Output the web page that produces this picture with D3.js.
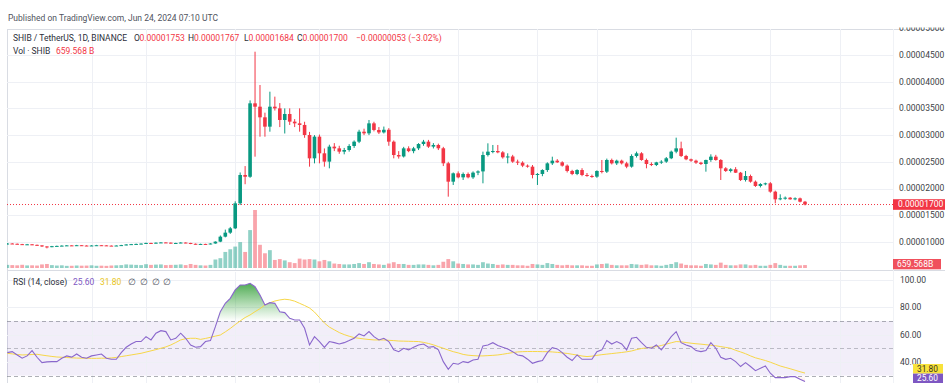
<!DOCTYPE html>
<html><head><meta charset="utf-8">
<script src="https://cdn.jsdelivr.net/npm/d3@7"></script>
<style>
html,body{margin:0;padding:0;background:#fff;}
svg{display:block;font-family:Roboto,"Liberation Sans",sans-serif;}
</style></head><body>
<svg id="chart" width="945" height="383"></svg>
<script>
// prices in units of 1e-8 USDT, daily candles from 2024-01-15 to 2024-06-24
const firstDay = "2024-01-15";
const lastDay = "2024-06-24";
const opens = [960,970,965,958,950,955,945,935,915,908,920,925,930,935,930,938,932,928,933,938,935,930,928,932,940,952,958,962,968,980,975,985,990,986,975,980,988,980,965,960,962,958,970,1005,1098,1173,1254,1722,2253,2220,3595,3532,3333,3158,3532,3501,3283,3395,3252,3220,3190,3002,2565,2971,2659,2503,2784,2752,2690,2721,2796,2877,3064,3033,3220,3096,3050,3100,2877,2627,2600,2752,2700,2752,2833,2877,2784,2815,2753,2472,2128,2284,2209,2272,2209,2297,2320,2627,2690,2702,2677,2584,2600,2503,2484,2428,2409,2253,2272,2346,2471,2521,2490,2428,2328,2272,2346,2253,2234,2222,2328,2315,2534,2471,2521,2471,2409,2609,2659,2534,2459,2440,2490,2503,2566,2690,2752,2609,2547,2521,2484,2459,2534,2596,2534,2378,2328,2360,2296,2159,2234,2128,2047,2084,2097,1941,1797,1816,1828,1797,1816,1753];
const highs = [978,976,970,963,962,958,950,938,920,925,930,936,940,938,944,941,936,938,944,942,938,934,936,945,956,962,968,972,986,984,990,996,994,989,984,994,991,983,970,966,965,975,1010,1120,1230,1280,1760,2300,2420,3650,4562,3938,3420,3813,3720,3600,3500,3501,3300,3501,3250,3060,3000,3010,2750,2820,2850,2800,2760,2830,2900,3100,3120,3283,3250,3150,3160,3130,2900,2700,2780,2790,2780,2850,2910,2910,2850,2840,2780,2500,2300,2320,2300,2300,2320,2340,2690,2846,2815,2815,2700,2659,2630,2540,2510,2450,2440,2290,2360,2490,2596,2550,2510,2450,2350,2360,2380,2290,2260,2340,2534,2560,2560,2540,2540,2500,2640,2690,2680,2560,2490,2500,2530,2590,2710,2952,2877,2630,2560,2540,2500,2540,2640,2630,2550,2400,2380,2400,2310,2328,2260,2150,2100,2110,2120,1960,1891,1850,1840,1834,1830,1767];
const lows = [952,960,952,944,946,940,930,905,879,900,914,920,925,924,926,928,922,924,930,930,925,922,924,928,936,947,953,956,964,970,971,980,981,970,970,976,975,958,952,954,950,955,966,995,1085,1150,1240,1690,2080,2200,2596,2970,2970,3064,3460,3150,3030,3190,3150,3064,2950,2409,2471,2471,2409,2378,2700,2650,2640,2690,2760,2850,3000,3000,3070,3020,3030,2800,2565,2560,2580,2680,2660,2720,2800,2760,2750,2720,2420,1847,2066,2190,2160,2190,2180,2250,2097,2600,2660,2660,2560,2471,2480,2440,2400,2390,2190,2066,2230,2310,2440,2480,2410,2300,2250,2250,2230,2220,2200,2200,2284,2290,2450,2440,2450,2380,2390,2580,2520,2378,2420,2420,2460,2480,2550,2660,2590,2530,2500,2460,2440,2315,2500,2520,2159,2310,2300,2290,2140,2130,2110,2030,2020,2060,1920,1722,1780,1790,1790,1780,1740,1684];
const closes = [970,965,958,950,955,945,935,915,908,920,925,930,935,930,938,932,928,933,938,935,930,928,932,940,952,958,962,968,980,975,985,990,986,975,980,988,980,965,960,962,958,970,1005,1098,1173,1254,1722,2253,2220,3595,3532,3333,3158,3532,3501,3283,3395,3252,3220,3190,3002,2565,2971,2659,2503,2784,2752,2690,2721,2796,2877,3064,3033,3220,3096,3050,3100,2877,2627,2600,2752,2700,2752,2833,2877,2784,2815,2753,2472,2128,2284,2209,2272,2209,2297,2320,2627,2690,2702,2677,2584,2600,2503,2484,2428,2409,2253,2272,2346,2471,2521,2490,2428,2328,2272,2346,2253,2234,2222,2328,2315,2534,2471,2521,2471,2409,2609,2659,2534,2459,2440,2490,2503,2566,2690,2752,2609,2547,2521,2484,2459,2534,2596,2534,2378,2328,2360,2296,2159,2234,2128,2047,2084,2097,1941,1797,1816,1828,1797,1816,1753,1700];
// volume in billions of SHIB
const volumes = [700,650,600,720,580,600,550,800,900,650,550,600,480,500,560,520,540,600,500,520,480,560,600,650,800,750,700,650,850,700,760,800,650,700,720,800,650,900,700,600,560,700,1900,2200,3600,4200,4800,5800,3600,8500,13000,5200,3300,4000,1800,2000,1700,1300,1100,2100,1900,2000,1900,1500,1800,1500,1000,900,800,800,900,1100,900,1300,900,800,700,1000,1300,900,900,700,700,800,800,700,600,700,1400,2000,1500,1000,900,800,800,700,1300,1000,900,700,800,700,700,600,600,500,900,800,700,1100,900,700,600,700,600,600,600,500,500,800,900,1000,700,600,600,600,900,800,700,800,600,600,500,700,900,1300,1000,700,600,600,500,900,800,700,1200,700,600,600,800,800,600,700,500,500,700,1100,700,500,500,500,600,660];
const rsi = [46.8,47.5,45.1,42.7,44.4,48.3,43.4,39.5,40.0,40.2,40.2,42.7,44.4,43.5,45.8,43.4,42.7,44.4,45.1,45.8,42.7,41.9,41.9,46.8,50.7,53.1,54.9,54.9,58.5,56.1,61.0,62.9,62.2,56.1,57.3,61.0,57.3,52.4,50.7,51.2,54.9,55.6,65.8,76.8,82.9,86.6,92.7,96.3,96.3,97.6,95.1,89.0,81.7,83.4,82.9,76.8,76.1,71.9,70.7,70.7,64.6,52.4,58.5,54.9,50.7,54.9,54.1,53.1,54.1,55.6,57.3,60.5,59.0,62.2,58.5,56.1,57.3,54.9,48.8,47.5,50.0,48.8,50.7,52.4,53.1,50.7,51.2,48.8,40.2,34.6,39.0,38.3,40.2,39.5,41.4,41.9,51.7,52.4,54.1,52.0,50.7,49.5,47.5,45.1,44.4,42.0,39.0,40.2,41.0,46.8,50.5,49.5,46.8,43.4,41.0,45.1,41.9,41.9,41.9,47.5,48.8,55.6,53.1,54.9,53.1,48.8,57.3,58.0,54.1,50.7,50.0,52.4,48.8,53.6,58.5,62.2,54.1,52.4,51.2,48.3,47.5,48.3,54.1,50.0,43.4,41.9,42.7,40.2,36.6,39.5,36.6,33.6,35.3,37.1,31.7,28.5,28.5,28.5,29.2,29.2,27.3,25.6];
const rsiMa = [46.3,45.9,45.4,45.1,45.2,45.4,45.6,45.0,44.5,44.0,43.6,43.4,43.2,43.0,42.8,42.7,42.7,42.6,42.6,42.7,42.7,42.9,43.3,43.9,44.5,45.1,45.7,46.3,47.2,48.1,49.0,50.0,51.0,52.4,54.2,56.1,57.0,57.3,57.3,56.5,57.2,58.0,58.9,59.7,62.0,64.5,67.3,70.0,72.5,74.4,76.8,79.0,81.7,83.3,84.6,85.4,85.9,85.5,84.5,82.9,81.3,79.5,76.5,72.5,68.5,65.5,63.5,61.5,60.0,58.8,57.8,57.3,56.8,56.4,56.1,56.1,56.1,55.8,55.6,55.3,55.2,55.1,55.0,54.9,54.3,53.5,52.5,51.2,50.0,48.7,47.5,46.6,45.5,44.9,44.6,44.4,44.4,44.6,44.8,45.1,45.6,46.2,46.8,47.3,47.5,47.6,47.6,47.6,47.5,47.5,47.3,47.0,46.6,46.2,45.6,45.0,44.3,43.9,44.2,44.8,45.3,45.7,46.1,46.5,46.9,47.4,48.0,49.0,49.8,50.3,50.8,51.2,52.0,53.0,54.0,54.9,54.7,54.2,53.7,53.3,53.0,52.6,52.2,51.8,51.2,50.6,50.0,48.5,47.3,46.0,44.4,43.0,42.0,41.0,39.8,38.4,37.0,36.0,35.0,33.9,32.8,31.8];
const priceTicks = [1000,1500,2000,2500,3000,3500,4000,4500,5000];
const rsiTicks = [100,80,60,40];
const rsiLevels = [70,50,30];
const gridDates = ["2024-02-01","2024-02-12","2024-03-01","2024-03-18","2024-04-01","2024-04-15","2024-05-01","2024-05-13","2024-06-01","2024-06-17","2024-07-01"];
const lastPrice = 1700, lastVolumeLabel = "659.568B", rsiLast = 25.60, rsiMaLast = 31.80;

const UP = "#089981", DOWN = "#F23645";
const svg = d3.select("#chart");
const parse = d3.utcParse("%Y-%m-%d");
const dates = d3.utcDay.range(parse(firstDay), d3.utcDay.offset(parse(lastDay), 1));
const data = dates.map((d, i) => ({d, o: opens[i], h: highs[i], l: lows[i], c: closes[i], v: volumes[i], r: rsi[i], m: rsiMa[i]}));

const L = 7, R = 893, PT = 29, PB = 270, RT = 272, RB = 395;
const x = d3.scaleUtc().domain([dates[0], dates[dates.length - 1]]).range([7.3, 805]);
const y = d3.scaleLinear().domain([1000, 5000]).range([241.9, 28.3]);
const vy = d3.scaleLinear().domain([0, 13000]).range([268, 210]);
const ry = d3.scaleLinear().domain([40, 100]).range([361.9, 280]);
const fmtP = v => (v * 1e-8).toFixed(8);

const defs = svg.append("defs");
defs.append("clipPath").attr("id", "cpMain").append("rect").attr("x", L).attr("y", PT).attr("width", R - L).attr("height", PB - PT);
defs.append("clipPath").attr("id", "cpRsi").append("rect").attr("x", L).attr("y", RT).attr("width", R - L).attr("height", RB - RT);
defs.append("clipPath").attr("id", "cpAxis").append("rect").attr("x", R).attr("y", 27.5).attr("width", 60).attr("height", PB - 27.5);
const ob = defs.append("linearGradient").attr("id", "obGrad").attr("gradientUnits", "userSpaceOnUse")
  .attr("x1", 0).attr("x2", 0).attr("y1", ry(100)).attr("y2", ry(70));
ob.append("stop").attr("offset", 0).attr("stop-color", "#3fa344").attr("stop-opacity", 1);
ob.append("stop").attr("offset", 1).attr("stop-color", "#4caf50").attr("stop-opacity", 0);
const os = defs.append("linearGradient").attr("id", "osGrad").attr("gradientUnits", "userSpaceOnUse")
  .attr("x1", 0).attr("x2", 0).attr("y1", ry(30)).attr("y2", ry(0));
os.append("stop").attr("offset", 0).attr("stop-color", "#ff5252").attr("stop-opacity", 0);
os.append("stop").attr("offset", 1).attr("stop-color", "#ff5252").attr("stop-opacity", 1);

// frame
svg.append("rect").attr("x", L + 0.5).attr("y", PT + 0.5).attr("width", 945).attr("height", 400)
  .attr("fill", "none").attr("stroke", "#d9dce3");
// grids main
const gMain = svg.append("g").attr("clip-path", "url(#cpMain)");
gMain.selectAll(".hg").data(priceTicks).join("line")
  .attr("x1", L).attr("x2", R).attr("y1", d => Math.round(y(d)) + 0.5).attr("y2", d => Math.round(y(d)) + 0.5)
  .attr("stroke", "#eef0f5");
gMain.selectAll(".vg").data(gridDates).join("line")
  .attr("x1", d => Math.round(x(parse(d))) + 0.5).attr("x2", d => Math.round(x(parse(d))) + 0.5)
  .attr("y1", PT).attr("y2", PB).attr("stroke", "#eef0f5");
// volume
gMain.selectAll(".vol").data(data).join("rect")
  .attr("x", d => x(d.d) - 1.9).attr("width", 3.8)
  .attr("y", d => vy(d.v)).attr("height", d => vy(0) - vy(d.v))
  .attr("fill", d => d.c >= d.o ? "rgba(8,153,129,0.45)" : "rgba(242,54,69,0.45)");
// last price line
gMain.append("line").attr("x1", L).attr("x2", R).attr("y1", y(lastPrice)).attr("y2", y(lastPrice))
  .attr("stroke", DOWN).attr("stroke-dasharray", "1,2").attr("stroke-width", 1);
// candles
const cg = gMain.selectAll(".c").data(data).join("g");
cg.append("line").attr("x1", d => x(d.d)).attr("x2", d => x(d.d))
  .attr("y1", d => y(d.h)).attr("y2", d => y(d.l))
  .attr("stroke", d => d.c >= d.o ? UP : DOWN).attr("stroke-width", 1);
cg.append("rect").attr("x", d => x(d.d) - 1.8).attr("width", 3.6)
  .attr("y", d => y(Math.max(d.o, d.c))).attr("height", d => Math.max(1, Math.abs(y(d.o) - y(d.c))))
  .attr("fill", d => d.c >= d.o ? UP : DOWN);

// separators
svg.append("line").attr("x1", L).attr("x2", 945).attr("y1", 270.5).attr("y2", 270.5).attr("stroke", "#d9dce3");
svg.append("line").attr("x1", R + 0.5).attr("x2", R + 0.5).attr("y1", PT).attr("y2", 383).attr("stroke", "#f0f2f6");

// price axis labels
const axG = svg.append("g").attr("clip-path", "url(#cpAxis)");
axG.selectAll("text").data(priceTicks).join("text")
  .attr("x", 899).attr("y", d => y(d)).attr("dy", "0.35em")
  .attr("font-size", 8.5).attr("fill", "#3d3f46").text(fmtP);
svg.append("rect").attr("x", R).attr("y", y(lastPrice) - 5.3).attr("width", 52).attr("height", 10.6).attr("fill", DOWN);
svg.append("text").attr("x", 898).attr("y", y(lastPrice)).attr("dy", "0.35em").attr("font-size", 8.5)
  .attr("fill", "#fff").text(fmtP(lastPrice));
svg.append("rect").attr("x", R).attr("y", 259).attr("width", 48).attr("height", 10.3).attr("fill", "#f0505c");
svg.append("text").attr("x", 897).attr("y", 264.2).attr("dy", "0.35em").attr("font-size", 8.5)
  .attr("fill", "#fff").text(lastVolumeLabel);

// RSI pane
const gR = svg.append("g").attr("clip-path", "url(#cpRsi)");
gR.append("rect").attr("x", L).attr("width", R - L).attr("y", ry(70)).attr("height", ry(30) - ry(70))
  .attr("fill", "rgba(126,87,194,0.1)");
gR.selectAll(".rg").data(rsiTicks).join("line")
  .attr("x1", L).attr("x2", R).attr("y1", d => Math.round(ry(d)) + 0.5).attr("y2", d => Math.round(ry(d)) + 0.5)
  .attr("stroke", "#eef0f5");
gR.selectAll(".rvg").data(gridDates).join("line")
  .attr("x1", d => Math.round(x(parse(d))) + 0.5).attr("x2", d => Math.round(x(parse(d))) + 0.5)
  .attr("y1", RT).attr("y2", RB).attr("stroke", "#eef0f5");
gR.selectAll(".lvl").data(rsiLevels).join("line")
  .attr("x1", L).attr("x2", R).attr("y1", d => Math.round(ry(d)) + 0.5).attr("y2", d => Math.round(ry(d)) + 0.5)
  .attr("stroke", "#787B86").attr("stroke-opacity", d => d === 50 ? 0.45 : 0.6)
  .attr("stroke-dasharray", "4,3");
gR.append("path").datum(data).attr("fill", "url(#obGrad)")
  .attr("d", d3.area().x(d => x(d.d)).y0(ry(70)).y1(d => ry(Math.max(70, d.r))));
gR.append("path").datum(data).attr("fill", "url(#osGrad)")
  .attr("d", d3.area().x(d => x(d.d)).y0(ry(30)).y1(d => ry(Math.min(30, d.r))));
gR.append("path").datum(data).attr("fill", "none").attr("stroke", "#F7D748").attr("stroke-width", 1)
  .attr("d", d3.line().x(d => x(d.d)).y(d => ry(d.m)));
gR.append("path").datum(data).attr("fill", "none").attr("stroke", "#8a67cc").attr("stroke-width", 1.1)
  .attr("d", d3.line().x(d => x(d.d)).y(d => ry(d.r)));

svg.selectAll(".rt").data(rsiTicks).join("text")
  .attr("x", 900).attr("y", d => ry(d)).attr("dy", "0.35em").attr("font-size", 8.5)
  .attr("fill", "#3d3f46").text(d => d.toFixed(2));
svg.append("rect").attr("x", 913).attr("y", 364).attr("width", 30).attr("height", 9.6).attr("fill", "#F8E23B");
svg.append("text").attr("x", 917).attr("y", 368.8).attr("dy", "0.35em").attr("font-size", 8.3)
  .attr("fill", "#3a3320").text(rsiMaLast.toFixed(2));
svg.append("rect").attr("x", 913).attr("y", 373.6).attr("width", 30).attr("height", 9.4).attr("fill", "#7E57C2");
svg.append("text").attr("x", 917).attr("y", 378.3).attr("dy", "0.35em").attr("font-size", 8.3)
  .attr("fill", "#fff").text(rsiLast.toFixed(2));

// header texts
const hdr = (tx, ty, s, col) => svg.append("text").attr("x", tx).attr("y", ty).attr("dy", "0.35em")
  .attr("font-size", 8.5).attr("fill", col).text(s);
hdr(8, 18.5, "Published on TradingView.com, Jun 24, 2024 07:10 UTC", "#50535E");
hdr(13, 38.5, "SHIB / TetherUS, 1D, BINANCE", "#2a2e39");
const last = data[data.length - 1], prev = data[data.length - 2];
hdr(134, 38.5, "O", "#2a2e39"); hdr(139.5, 38.5, fmtP(last.o), DOWN);
hdr(188, 38.5, "H", "#2a2e39"); hdr(194, 38.5, fmtP(last.h), DOWN);
hdr(244, 38.5, "L", "#2a2e39"); hdr(248.5, 38.5, fmtP(last.l), DOWN);
hdr(297, 38.5, "C", "#2a2e39"); hdr(302.5, 38.5, fmtP(last.c), DOWN);
const chg = last.c - prev.c;
hdr(356, 38.5, "\u2212" + fmtP(Math.abs(chg)) + " (\u2212" + Math.abs(chg / prev.c * 100).toFixed(2) + "%)", DOWN);
hdr(13, 51.5, "Vol \u00b7 SHIB", "#2a2e39");
hdr(56, 51.5, "659.568 B", DOWN);
hdr(13, 282.5, "RSI (14, close)", "#2a2e39");
hdr(73, 282.5, rsiLast.toFixed(2), "#7E57C2");
hdr(100, 282.5, rsiMaLast.toFixed(2), "#E8C51A");
[128, 140, 152, 163].forEach(px => hdr(px, 282.5, "\u2205", "#50535E"));
</script></body></html>
